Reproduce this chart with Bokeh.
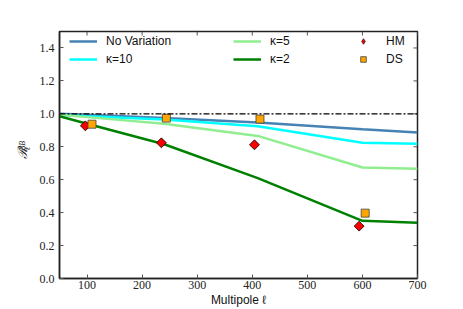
import math
from bokeh.plotting import figure
from bokeh.layouts import row
from bokeh.models import (Legend, LegendItem, Label, Span, FixedTicker,
                          Range1d, NumeralTickFormatter)
from bokeh.embed import file_html
from bokeh.resources import INLINE

# ---- data ----
ell = [50, 100, 240, 410, 600, 700]
no_variation = [1.0, 0.995, 0.975, 0.948, 0.907, 0.887]
kappa10 = [0.993, 0.985, 0.965, 0.925, 0.824, 0.818]
kappa5 = [0.995, 0.98, 0.94, 0.866, 0.674, 0.666]
kappa2 = [0.985, 0.94, 0.815, 0.61, 0.35, 0.338]

hm_ell = [97, 235, 404, 594]
hm_val = [0.927, 0.824, 0.812, 0.318]
ds_ell = [109, 244, 414, 605]
ds_val = [0.937, 0.974, 0.968, 0.397]

x_ticks = [100, 200, 300, 400, 500, 600, 700]
y_ticks = [0.0, 0.2, 0.4, 0.6, 0.8, 1.0, 1.2, 1.4]
X_MAX = 700
Y_MAX = 1.5

SERIF = "Liberation Serif"
SANS = "Liberation Sans"

H = 309
LAB_W = 36
W = 423
TOP, LEFT, RIGHT, BOTTOM = 31, 22, 42, 31
ROT = math.pi / 2  # text reading bottom-to-top

# ---- narrow strip carrying the y-axis label  R_ell^{BB} ----
lab = figure(width=LAB_W, height=H, output_backend="svg", toolbar_location=None,
             x_range=Range1d(0, LAB_W), y_range=Range1d(0, H),
             min_border=0, min_border_left=0, min_border_right=0,
             min_border_top=0, min_border_bottom=0)
lab.axis.visible = False
lab.grid.visible = False
lab.outline_line_color = None
lab.background_fill_color = "white"
lab.border_fill_color = "white"
lab.add_layout(Label(x=22, y=H - 160, text="ℛ", angle=ROT,
                     text_font=SERIF, text_font_style="italic",
                     text_font_size="13px", text_baseline="middle",
                     text_align="left", text_color="#222222"))
lab.add_layout(Label(x=27, y=H - 149, text="ℓ", angle=ROT,
                     text_font=SERIF, text_font_style="italic",
                     text_font_size="8px", text_baseline="middle",
                     text_align="left", text_color="#222222"))
lab.add_layout(Label(x=21.5, y=H - 149, text="BB", angle=ROT,
                     text_font=SERIF, text_font_style="italic",
                     text_font_size="8px", text_baseline="middle",
                     text_align="left", text_color="#222222"))

# ---- main plot ----
p = figure(width=W, height=H, output_backend="svg", toolbar_location=None,
           x_range=Range1d(50, X_MAX), y_range=Range1d(0, Y_MAX),
           min_border_left=LEFT, min_border_right=RIGHT, min_border_top=TOP,
           min_border_bottom=BOTTOM)
# an extra range used only to keep the legend's diamond glyph off the frame
p.extra_y_ranges = {"legend_only": Range1d(10, 11)}
p.xgrid.visible = False
p.ygrid.visible = False
p.outline_line_color = "#222222"
p.outline_line_width = 1.5
p.background_fill_color = "white"
p.border_fill_color = "white"

for ax, ticks in ((p.xaxis[0], x_ticks), (p.yaxis[0], y_ticks)):
    ax.ticker = FixedTicker(ticks=ticks)
    ax.major_tick_in = 4
    ax.major_tick_out = 0
    ax.minor_tick_in = 0
    ax.minor_tick_out = 0
    ax.axis_line_color = "#222222"
    ax.axis_line_width = 1.5
    ax.major_tick_line_color = "#555555"
    ax.major_tick_line_width = 1
    ax.major_label_text_font = SERIF
    ax.major_label_text_font_size = "12px"
    ax.major_label_text_color = "#222222"

p.yaxis[0].formatter = NumeralTickFormatter(format="0.0")
p.xaxis[0].major_label_standoff = 2
p.yaxis[0].major_label_standoff = 5
p.xaxis[0].axis_label = "Multipole ℓ"
p.xaxis[0].axis_label_text_font = SANS
p.xaxis[0].axis_label_text_font_style = "normal"
p.xaxis[0].axis_label_text_font_size = "12px"
p.xaxis[0].axis_label_text_color = "#111111"
p.xaxis[0].axis_label_standoff = 1

# inward ticks on the top and right edges
p.ray(x=x_ticks, y=[Y_MAX] * len(x_ticks), length=4, length_units="screen",
      angle=-math.pi / 2, line_color="#555555", line_width=1)
p.ray(x=[X_MAX] * len(y_ticks), y=y_ticks, length=4, length_units="screen",
      angle=math.pi, line_color="#555555", line_width=1)

# lines
r_nv = p.line(ell, no_variation, line_color="#4682b4", line_width=2.5)
r_k10 = p.line(ell, kappa10, line_color="#00ffff", line_width=2.5)
r_k5 = p.line(ell, kappa5, line_color="#90ee90", line_width=2.5)
r_k2 = p.line(ell, kappa2, line_color="#008000", line_width=2.5)

ref = Span(location=1.0, dimension="width", line_color="black",
           line_width=1.3, line_dash="6 2 2 2")
p.add_layout(ref)

p.scatter(hm_ell, hm_val, marker="square", angle=math.pi / 4, size=7,
          fill_color="red", line_color="black", line_width=0.8)
r_ds = p.scatter(ds_ell, ds_val, marker="square", size=8, fill_color="#ffa500",
                 line_color="#444444", line_width=0.8)
# legend glyph for HM (legend glyphs are drawn unrotated); mapped off the frame
r_hm_leg = p.scatter(hm_ell, hm_val, marker="diamond", size=11, fill_color="red",
                     line_color="black", line_width=0.6, y_range_name="legend_only")

frame_h = H - TOP - BOTTOM

def make_legend(items, x):
    lg = Legend(items=items, location=(x, frame_h - 35), orientation="vertical",
                background_fill_alpha=0, border_line_color=None,
                padding=0, margin=0, spacing=4, glyph_width=28, glyph_height=14,
                label_height=14, label_standoff=9,
                label_text_font=SANS, label_text_font_size="12px",
                label_text_color="#111111")
    p.add_layout(lg)
    return lg

make_legend([LegendItem(label="No Variation", renderers=[r_nv]),
             LegendItem(label="κ=10", renderers=[r_k10])], 10)
make_legend([LegendItem(label="κ=5", renderers=[r_k5]),
             LegendItem(label="κ=2", renderers=[r_k2])], 174)
make_legend([LegendItem(label="HM", renderers=[r_hm_leg]),
             LegendItem(label="DS", renderers=[r_ds])], 290)

layout = row(lab, p)
open("out.html", "w").write(file_html(layout, INLINE))
